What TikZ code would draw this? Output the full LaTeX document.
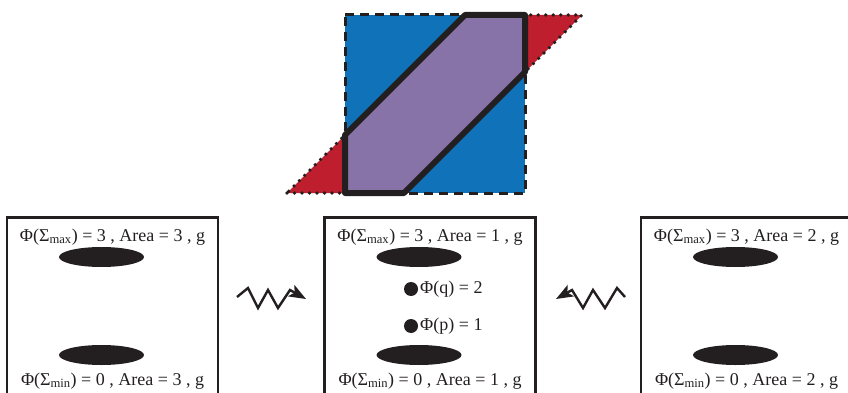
\documentclass[tikz,border=0pt]{standalone}
\usepackage{fontspec}
\setmainfont{Liberation Serif}
\usetikzlibrary{arrows.meta}
\definecolor{sqblue}{HTML}{1072B9}
\definecolor{parred}{HTML}{BE1E2D}
\definecolor{overlap}{HTML}{8873A9}
\definecolor{ink}{HTML}{231F20}
\begin{document}
\begin{tikzpicture}[x=1pt,y=-1pt,
  panel/.style={draw=ink,line width=2.6pt,minimum width=211pt,minimum height=220pt,anchor=north,inner sep=0pt},
  lab/.style={font=\fontsize{18}{20}\selectfont,inner sep=0pt,text=ink},
  zig/.style={draw=ink,line width=2.4pt,line join=miter,-{Stealth[length=17pt,width=13pt,inset=4pt]}}]
\useasboundingbox (0,0) rectangle (848,393);
\clip (0,0) rectangle (848,393);
% square and sheared square
\coordinate (s1) at (345,15); \coordinate (s2) at (525,15);
\coordinate (s3) at (525,193); \coordinate (s4) at (345,193);
\coordinate (p1) at (287,193); \coordinate (p2) at (404,193);
\coordinate (p3) at (582,15); \coordinate (p4) at (465,15);
\fill[sqblue] (s1)--(s2)--(s3)--(s4)--cycle;
\fill[parred] (p1)--(p2)--(p3)--(p4)--cycle;
\fill[overlap] (s4)--(345,135)--(p4)--(s2)--(525,72)--(p2)--cycle;
\draw[ink,line width=3pt,dash pattern=on 9pt off 6pt] (s1)--(s2)--(s3)--(s4)--cycle;
\draw[ink,line width=3.6pt,line cap=round,dash pattern=on 0pt off 7.5pt] (p1)--(p2)--(p3)--(p4)--cycle;
\draw[ink,line width=6pt,line join=round] (s4)--(345,135)--(p4)--(s2)--(525,72)--(p2)--cycle;
% panels
\foreach \n/\cx/\ar in {L/112.5/3,M/430/1,R/746.5/2}{
  \node[panel] (panel\n) at (\cx,216) {};
  \node[lab] (top\n) at (\cx,237) {Φ(Σ\textsubscript{max}) = 3 , Area = \ar\ , g};
  \node[lab] (bot\n) at (\cx,381) {Φ(Σ\textsubscript{min}) = 0 , Area = \ar\ , g};
  \fill[ink] (\cx-11,257) ellipse [x radius=42.5,y radius=10];
  \fill[ink] (\cx-11,355) ellipse [x radius=42.5,y radius=10];}
% critical points
\foreach \pt/\yy/\v in {q/289/2,p/326/1}{
  \fill[ink] (411,\yy) circle (7);
  \node[lab,anchor=west] (crit\pt) at (420,\yy) {Φ(\pt) = \v};}
% flow arrows
\coordinate (zl) at (237,297); \coordinate (zlend) at (306,299);
\coordinate (zr) at (625,297); \coordinate (zrend) at (556,299);
\draw[zig] (zl)--(248,288)--(258,308)--(268,290)--(278,308)--(290,290)--(zlend);
\draw[zig] (zr)--(617,288)--(605,308)--(593,290)--(583,308)--(572,290)--(zrend);
\end{tikzpicture}
\end{document}
